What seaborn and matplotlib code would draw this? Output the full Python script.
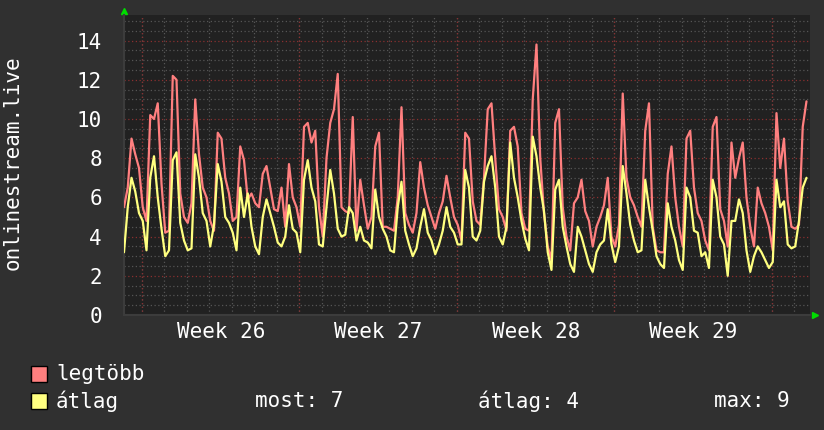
import numpy as np
import pandas as pd
import seaborn as sns
import matplotlib.pyplot as plt
from matplotlib.patches import Rectangle

# time axis: days from the start of week 26, one sample every 4 hours
start_day = -0.8
step_day = 1 / 6

# legtöbb (max) series
legtobb = [5.5, 6.5, 9.0, 8.2, 7.5, 5.5, 4.8, 10.2, 10.0, 10.8, 6.7, 4.2, 4.3, 12.2, 12.0, 6.2, 5.0, 4.7,
           5.7, 11.0, 8.2, 6.5, 6.0, 4.8, 4.3, 9.3, 9.0, 7.0, 6.2, 4.8, 5.0, 8.6, 7.9, 5.9, 6.2, 5.7, 5.5,
           7.2, 7.6, 6.5, 5.4, 5.3, 6.5, 4.5, 7.7, 6.0, 5.5, 4.5, 9.6, 9.8, 8.8, 9.4, 5.5, 4.0, 8.0,
           9.8, 10.5, 12.3, 5.5, 5.3, 5.2, 10.1, 4.3, 6.9, 5.6, 4.4, 5.0, 8.6, 9.3, 4.5, 4.5, 4.4, 4.3,
           6.0, 10.6, 5.2, 4.6, 4.2, 5.2, 7.8, 6.5, 5.6, 5.0, 4.4, 5.2, 5.8, 7.1, 6.0, 5.0, 4.6, 3.8,
           9.3, 9.0, 5.8, 4.8, 4.6, 7.0, 10.5, 10.8, 8.0, 5.4, 5.0, 4.3, 9.4, 9.6, 8.6, 5.2, 4.4, 4.3,
           11.0, 13.8, 8.0, 5.2, 3.5, 2.8, 9.8, 10.5, 5.5, 4.0, 3.3, 5.7, 6.0, 6.9, 5.3, 4.8, 3.5, 4.5,
           5.0, 5.6, 7.0, 4.0, 3.5, 4.6, 11.3, 7.0, 6.0, 5.6, 5.0, 4.5, 9.4, 10.8, 4.5, 3.3, 3.2, 3.2,
           7.2, 8.6, 6.0, 4.5, 3.5, 9.0, 9.4, 6.5, 5.2, 4.8, 3.8, 3.3, 9.6, 10.1, 5.4, 4.8, 3.5, 8.8,
           7.0, 8.0, 8.8, 6.0, 4.5, 3.5, 6.5, 5.7, 5.2, 4.5, 3.3, 10.3, 7.5, 9.0, 5.8, 4.5, 4.4, 4.6,
           9.6, 10.9]

# átlag (average) series
atlag = [3.2, 5.5, 7.0, 6.3, 5.2, 4.8, 3.3, 7.0, 8.1, 6.0, 4.4, 3.0, 3.3, 7.9, 8.3, 4.7, 3.8, 3.3,
         3.4, 8.2, 7.0, 5.2, 4.8, 3.5, 4.6, 7.7, 6.8, 5.0, 4.7, 4.2, 3.3, 6.5, 5.0, 6.2, 4.5, 3.5, 3.1,
         5.0, 5.9, 5.2, 4.5, 3.7, 3.5, 4.0, 5.6, 4.4, 4.2, 3.2, 6.9, 7.9, 6.5, 5.8, 3.6, 3.5, 5.5,
         7.4, 6.2, 4.4, 4.0, 4.1, 5.5, 5.2, 3.8, 4.5, 3.8, 3.7, 3.4, 6.4, 5.0, 4.4, 4.0, 3.3, 3.2,
         5.5, 6.8, 4.3, 3.6, 3.0, 3.4, 4.5, 5.4, 4.2, 3.8, 3.1, 3.6, 4.3, 5.5, 4.5, 4.2, 3.6, 3.6,
         7.4, 6.5, 4.0, 3.8, 4.3, 6.8, 7.6, 8.1, 6.5, 4.0, 3.6, 4.5, 8.8, 7.0, 6.0, 4.8, 3.9, 3.3,
         9.1, 8.1, 6.5, 5.3, 3.2, 2.3, 6.4, 6.9, 4.5, 3.5, 2.6, 2.2, 4.5, 4.0, 3.3, 2.6, 2.2, 3.2,
         3.6, 3.8, 5.4, 3.6, 2.7, 3.5, 7.6, 6.2, 4.6, 3.8, 3.2, 3.3, 6.9, 5.5, 4.3, 3.0, 2.6, 2.4,
         5.7, 4.5, 3.8, 2.8, 2.3, 6.5, 6.0, 4.3, 4.2, 3.0, 3.2, 2.4, 6.9, 6.0, 4.0, 3.6, 2.0, 4.8,
         4.8, 5.9, 5.2, 3.3, 2.2, 3.0, 3.5, 3.2, 2.8, 2.4, 2.7, 6.9, 5.5, 5.8, 3.6, 3.4, 3.5, 4.8,
         6.5, 7.0]

week_labels = ["Week 26", "Week 27", "Week 28", "Week 29"]
week_centers = [3.5, 10.5, 17.5, 24.5]
week_starts = [0, 7, 14, 21, 28]
yticks = [0, 2, 4, 6, 8, 10, 12, 14]
stat_labels = ["most: 7", "átlag: 4", "max: 9"]

BG = "#303030"
PLOT_BG = "#212121"
RED = "#ff7f7f"
YELLOW = "#ffff80"

days = start_day + step_day * np.arange(len(legtobb))
df = pd.DataFrame({"day": days, "legtobb": legtobb, "atlag": atlag})

sns.set_style("dark")
plt.rcParams["font.family"] = ["DejaVu Sans Mono"]

fig = plt.figure(figsize=(8.24, 4.30), dpi=100, facecolor=BG)
ax = fig.add_axes([124 / 824, 1 - 315 / 430, 686 / 824, 300 / 430])
ax.set_facecolor(PLOT_BG)

# grid
ax.set_xlim(-0.8, 29.69)
ax.set_ylim(0, 300 / 19.6)
ax.set_yticks(yticks)
ax.set_yticks(np.arange(0, 15.5, 0.5), minor=True)
ax.set_xticks(week_centers)
ax.set_xticklabels(week_labels)
ax.set_xticks(np.arange(0, 30, 1), minor=True)
ax.grid(False)
ax.yaxis.grid(True, which="minor", color="#555555", linestyle=(0, (1, 2)), linewidth=0.9)
ax.xaxis.grid(True, which="minor", color="#555555", linestyle=(0, (1, 2)), linewidth=0.9)
for v in yticks[1:]:
    ax.axhline(v, color="#8a3030", linestyle=(0, (1, 2)), linewidth=0.9, zorder=1)
for w in week_starts:
    ax.axvline(w, color="#8a3030", linestyle=(0, (1, 2)), linewidth=0.9, zorder=1)
ax.set_axisbelow(True)

sns.lineplot(data=df, x="day", y="legtobb", color=RED, linewidth=1.6, sort=False, errorbar=None, ax=ax, zorder=3)
sns.lineplot(data=df, x="day", y="atlag", color=YELLOW, linewidth=1.6, sort=False, errorbar=None, ax=ax, zorder=4)

ax.set_xlabel("")
ax.set_ylabel("")
ax.tick_params(axis="both", which="both", length=0, colors="white", labelsize=15)
ax.tick_params(axis="y", pad=16)
ax.tick_params(axis="x", pad=5)
for s in ["top", "right"]:
    ax.spines[s].set_visible(False)
for s in ["left", "bottom"]:
    ax.spines[s].set_color("#3c3c3c")
    ax.spines[s].set_linewidth(1.5)

# rrd style arrows
ax.plot([0], [1.013], marker="^", color="#00dd00", markersize=5, transform=ax.transAxes, clip_on=False)
ax.plot([1.007], [0], marker=">", color="#00dd00", markersize=5, transform=ax.transAxes, clip_on=False)

fig.text(13 / 824, 1 - 163 / 430, "onlinestream.live", rotation=90, color="white", fontsize=15,
         ha="center", va="center")

# legend
legend_items = [("legtöbb", RED, 373.5), ("átlag", YELLOW, 401)]
for label, col, yc in legend_items:
    fig.patches.append(Rectangle((31 / 824, 1 - (yc + 8) / 430), 16 / 824, 16 / 430,
                                 transform=fig.transFigure, facecolor=col, edgecolor="black", linewidth=1))
    fig.text(56 / 824, 1 - yc / 430, label, color="white", fontsize=15, ha="left", va="center")
for label, xpos in zip(stat_labels, [255, 478, 714]):
    fig.text(xpos / 824, 1 - 401 / 430, label, color="white", fontsize=15, ha="left", va="center")

fig.savefig("out.png", dpi=100, facecolor=BG)
